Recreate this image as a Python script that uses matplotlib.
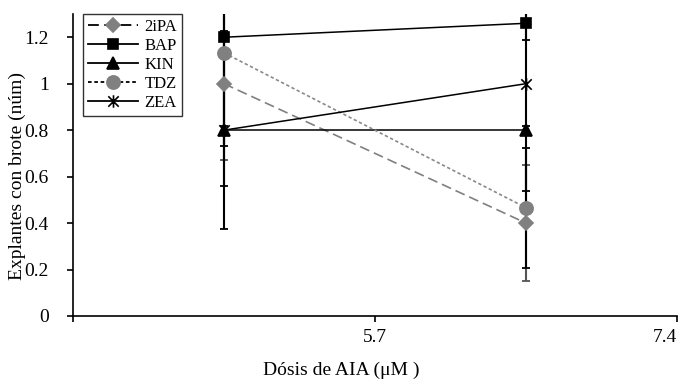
import numpy as np
import matplotlib
matplotlib.use('Agg')
import matplotlib.pyplot as plt
from matplotlib.path import Path
from matplotlib.lines import Line2D

# ---- data ----
series = ['2iPA', 'BAP', 'KIN', 'TDZ', 'ZEA']
vals_2iPA = [1.00, 0.40]
vals_BAP = [1.20, 1.26]
vals_KIN = [0.80, 0.80]
vals_TDZ = [1.133, 0.466]
vals_ZEA = [0.80, 1.00]
err_2iPA = [0.33, 0.25]
err_BAP = [0.47, 0.073]
err_KIN = [0.02, 0.02]
err_TDZ = [0.574, 0.258]
err_ZEA = [0.427, 0.462]
x_tick_labels = ['', '5.7', '7.4']
y_ticks = [0, 0.2, 0.4, 0.6, 0.8, 1.0, 1.2]
y_tick_labels = ['0', '0.2', '0.4', '0.6', '0.8', '1', '1.2']

values = [vals_2iPA, vals_BAP, vals_KIN, vals_TDZ, vals_ZEA]
errors = [err_2iPA, err_BAP, err_KIN, err_TDZ, err_ZEA]

plt.rcParams['font.family'] = ['Liberation Serif', 'DejaVu Serif']

W, H = 683, 382
fig = plt.figure(figsize=(W / 100, H / 100), dpi=100)
ax = fig.add_axes([73 / W, 1 - 316 / H, (677 - 73) / W, (316 - 14) / H])

xpos = np.arange(len(vals_BAP)) + 0.5

asterisk = Path([(-1, -1), (1, 1), (-1, 1), (1, -1), (0, -1.2), (0, 1.2)],
                [Path.MOVETO, Path.LINETO, Path.MOVETO, Path.LINETO, Path.MOVETO, Path.LINETO])

gray = '#808080'
styles = {
    '2iPA': dict(color=gray, ls=(0, (6, 3)), marker='D', ms=7, mfc=gray, mec=gray, lw=1.2, ecol='#555555'),
    'BAP': dict(color='black', ls='-', marker='s', ms=7, mfc='black', mec='black', lw=1.1, ecol='black'),
    'KIN': dict(color='black', ls='-', marker='^', ms=8.5, mfc='black', mec='black', lw=1.1, ecol='black'),
    'TDZ': dict(color='#8a8a8a', ls=(0, (2, 1.5)), marker='o', ms=9.5, mfc='#808080', mec='#808080', lw=1.2, ecol='black'),
    'ZEA': dict(color='black', ls='-', marker=asterisk, ms=9, mfc='black', mec='black', lw=1.1, ecol='black'),
}

for name, v, e in zip(series, values, errors):
    st = styles[name]
    ax.errorbar(xpos, v, yerr=e, fmt='none', ecolor=st['ecol'], elinewidth=1.5,
                capsize=3, capthick=1.3, zorder=2)

handles = []
for name, v in zip(series, values):
    st = styles[name]
    ax.plot(xpos, v, color=st['color'], ls=st['ls'], lw=st['lw'], zorder=3)
    ax.plot(xpos, v, ls='none', marker=st['marker'], ms=st['ms'], mfc=st['mfc'],
            mec=st['mec'], mew=1.2, zorder=4)
    handles.append(Line2D([0], [0], color='black', ls=st['ls'], lw=1.3,
                          marker=st['marker'], ms=st['ms'], mfc=st['mfc'],
                          mec=st['mec'], mew=1.2))

ax.set_xlim(0, 2)
ax.set_ylim(0, 1.3)
ax.set_xticks([0, 1, 2])
ax.set_xticklabels(x_tick_labels, fontsize=14)
ax.set_yticks(y_ticks)
ax.set_yticklabels(y_tick_labels, fontsize=14)
for lab in ax.get_xticklabels():
    if lab.get_text() == '7.4':
        lab.set_ha('right')

for s in ['top', 'right']:
    ax.spines[s].set_visible(False)
for s in ['left', 'bottom']:
    ax.spines[s].set_linewidth(1.2)
ax.tick_params(axis='y', direction='out', length=4, width=1.2, pad=13.5)
ax.tick_params(axis='x', direction='out', length=4, width=1.2, pad=5)

leg = ax.legend(handles, series, loc='upper left', bbox_to_anchor=(10 / 604, 1.0),
                borderaxespad=0, fontsize=12, handlelength=3.0, handletextpad=0.4,
                labelspacing=0.18, borderpad=0.3, fancybox=False, frameon=True)
leg.get_frame().set_edgecolor('black')
leg.get_frame().set_linewidth(1.0)

fig.text(341 / W, 1 - 370 / H, 'Dósis de AIA (μM )', ha='center', va='center', fontsize=14)
fig.text(17 / W, 1 - 176 / H, 'Explantes con brote (núm)', ha='center', va='center',
         rotation=90, fontsize=14)

fig.savefig('out.png', dpi=100)
